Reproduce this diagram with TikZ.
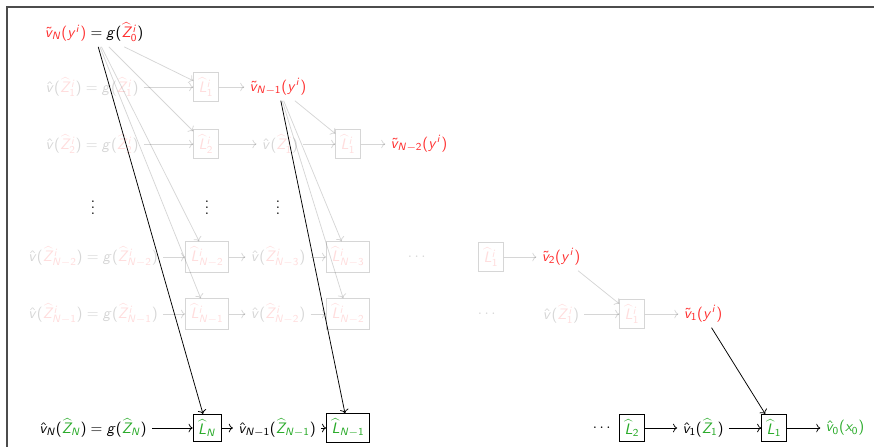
\documentclass[tikz,border=0pt]{standalone}
\usepackage{amsmath}
\usetikzlibrary{arrows.meta}
% sans serif math, as in slides
\DeclareSymbolFont{operators}{OT1}{cmss}{m}{n}
\DeclareSymbolFont{letters}{OT1}{cmss}{m}{sl}
\definecolor{vred}{RGB}{255,45,45}
\definecolor{zgreen}{RGB}{40,170,40}
\newcommand{\Zr}[1]{{\color{vred}\widehat{Z}^i_{#1}}}
\newcommand{\Lr}[1]{{\color{vred}\widehat{L}^i_{#1}}}
\newcommand{\Zg}[1]{{\color{zgreen}\widehat{Z}_{#1}}}
\newcommand{\Lg}[1]{{\color{zgreen}\widehat{L}_{#1}}}
\newcommand{\vt}[1]{{\color{vred}\tilde{v}_{#1}(y^i)}}

\begin{document}
\begin{tikzpicture}[x=0.66pt,y=-0.66pt,line width=0.5pt,>=To,
  lbox/.style={draw},
  faded/.style={opacity=0.16}]
\useasboundingbox (0,0) rectangle (874,447);
\draw[line width=1.3pt,black!70] (7,447) -- (7,7) -- (874,7);
% top row
\node (vN) at (94,32) {$\vt{N} = g(\Zr{0})$};
% faded rows of the inner recursion
\begin{scope}[faded]
\node (z1) at (92,87) {$\hat v(\Zr{1}) = g(\Zr{1})$};
\node[lbox] (l11) at (206,87) {$\Lr{1}$};
\node (z2) at (92,144) {$\hat v(\Zr{2}) = g(\Zr{2})$};
\node[lbox] (l21) at (206,144) {$\Lr{2}$};
\node (v21) at (280,144) {$\hat v(\Zr{1})$};
\node[lbox] (l22) at (348,144) {$\Lr{1}$};
\node (z4) at (93,257) {$\hat v(\Zr{N-2}) = g(\Zr{N-2})$};
\node[lbox] (l41) at (207,257) {$\Lr{N-2}$};
\node (v41) at (278,257) {$\hat v(\Zr{N-3})$};
\node[lbox] (l42) at (348,257) {$\Lr{N-3}$};
\node (d4) at (418,257) {$\cdots$};
\node[lbox] (l43) at (491,257) {$\Lr{1}$};
\node (z5) at (93,314) {$\hat v(\Zr{N-1}) = g(\Zr{N-1})$};
\node[lbox] (l51) at (207,314) {$\Lr{N-1}$};
\node (v51) at (278,314) {$\hat v(\Zr{N-2})$};
\node[lbox] (l52) at (348,314) {$\Lr{N-2}$};
\node (d5) at (488,314) {$\cdots$};
\node (v53) at (561,314) {$\hat v(\Zr{1})$};
\node[lbox] (l53) at (632,314) {$\Lr{1}$};
\end{scope}
\node (t1) at (278,87) {$\vt{N-1}$};
\node (t2) at (419,144) {$\vt{N-2}$};
\node (t4) at (561,257) {$\vt{2}$};
\node (t5) at (703,314) {$\vt{1}$};
\foreach \x in {93,207,278}
  \node at (\x,203) {$\vdots$};
% bottom row
\node (zN) at (93,428) {$\hat v_N(\Zg{N}) = g(\Zg{N})$};
\node[lbox] (LN) at (207,428) {$\Lg{N}$};
\node (vN1) at (277,428) {$\hat v_{N-1}(\Zg{N-1})$};
\node[lbox] (LN1) at (348,428) {$\Lg{N-1}$};
\node (db) at (603,428) {$\cdots$};
\node[lbox] (L2) at (632,428) {$\Lg{2}$};
\node (v1) at (703,428) {$\hat v_1(\Zg{1})$};
\node[lbox] (L1) at (774,428) {$\Lg{1}$};
\node (v0) at (845,428) {$\color{zgreen}\hat v_0(x_0)$};
% faded connectors
\begin{scope}[faded,->]
\draw (z1) -- (l11); \draw (l11) -- (t1);
\draw (z2) -- (l21); \draw (l21) -- (v21); \draw (v21) -- (l22); \draw (l22) -- (t2);
\draw (z4) -- (l41); \draw (l41) -- (v41); \draw (v41) -- (l42); \draw (l43) -- (t4);
\draw (z5) -- (l51); \draw (l51) -- (v51); \draw (v51) -- (l52);
\draw (v53) -- (l53); \draw (l53) -- (t5);
\foreach \b in {l11,l21,l41,l51}
  \draw (vN) -- (\b);
\foreach \b in {l22,l42,l52}
  \draw (t1) -- (\b);
\draw (t4) -- (l53);
\end{scope}
% solid connectors
\draw[->] (vN) -- (LN);
\draw[->] (t1) -- (LN1);
\draw[->] (t5) -- (L1);
\draw[->] (zN) -- (LN);
\draw[->] (LN) -- (vN1);
\draw[->] (vN1) -- (LN1);
\draw[->] (L2) -- (v1);
\draw[->] (v1) -- (L1);
\draw[->] (L1) -- (v0);
\end{tikzpicture}
\end{document}
